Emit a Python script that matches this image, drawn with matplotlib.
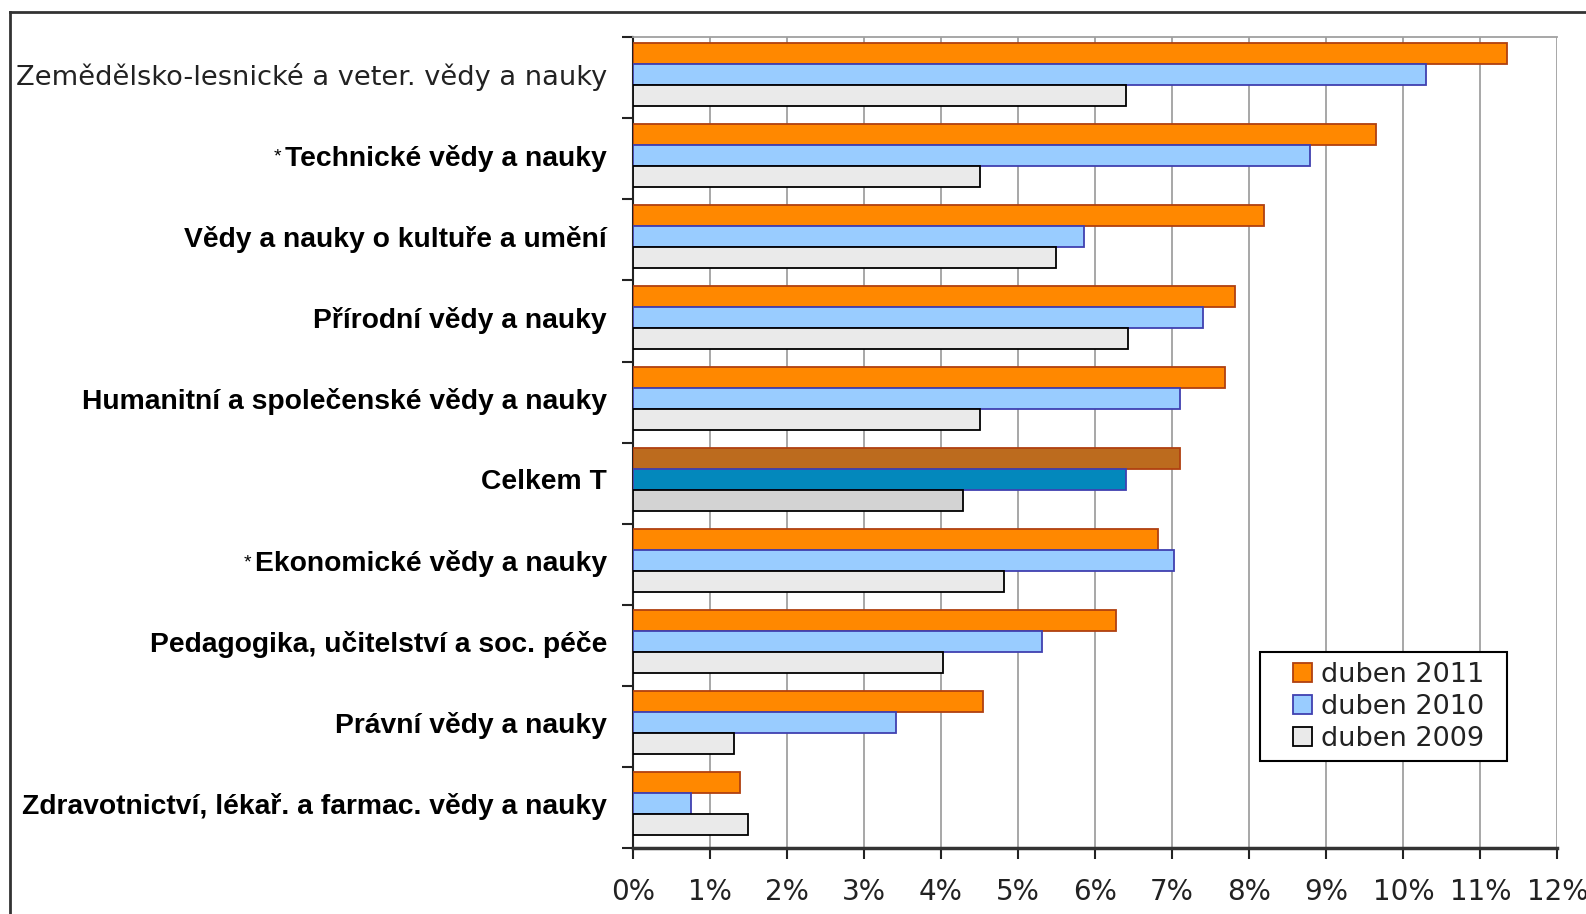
import numpy as np
import matplotlib
matplotlib.use('Agg')
import matplotlib.pyplot as plt
import matplotlib.transforms as mtransforms
from matplotlib.lines import Line2D
from matplotlib.patches import Patch, Rectangle

# obory, shora dolu
obory = ['Zemědělsko-lesnické a veter. vědy a nauky',
         'Technické vědy a nauky',
         'Vědy a nauky o kultuře a umění',
         'Přírodní vědy a nauky',
         'Humanitní a společenské vědy a nauky',
         'Celkem T',
         'Ekonomické vědy a nauky',
         'Pedagogika, učitelství a soc. péče',
         'Právní vědy a nauky',
         'Zdravotnictví, lékař. a farmac. vědy a nauky']
hvezdicka = [False, True, False, False, False, False, True, False, False, False]

duben2011 = [11.34, 9.65, 8.19, 7.82, 7.68, 7.10, 6.81, 6.27, 4.55, 1.39]
duben2010 = [10.30, 8.79, 5.85, 7.40, 7.10, 6.40, 7.02, 5.31, 3.41, 0.75]
duben2009 = [6.40, 4.50, 5.49, 6.43, 4.50, 4.29, 4.82, 4.02, 1.31, 1.50]

roky = ['duben 2011', 'duben 2010', 'duben 2009']
xticks = np.arange(0, 13, 1)

barvy = ['#FF8800', '#99CCFF', '#EAEAEA']
okraje = ['#B04010', '#4040B0', '#000000']
barvy_celkem = ['#BC6B1E', '#0388BC', '#D3D3D3']

fig = plt.figure(figsize=(15.86, 9.14), dpi=100)
ax = fig.add_axes([0.399, 0.0727, 0.583, 0.8863])

n = len(obory)
y = np.arange(n)
h = 0.2625
off = 0.0625
for k, hodnoty in enumerate([duben2011, duben2010, duben2009]):
    cols = [barvy_celkem[k] if o == 'Celkem T' else barvy[k] for o in obory]
    ax.barh(y + off + k * h, hodnoty, height=h, align='edge', color=cols,
            edgecolor=okraje[k], linewidth=1.3, zorder=3)

ax.set_xlim(0, 12)
ax.set_ylim(n, 0)
ax.set_xticks(xticks)
ax.set_xticklabels(['%d%%' % t for t in xticks], fontsize=20,
                   family='DejaVu Sans', color='#222222')
# posledni popisek trochu doleva, at se vejde
last = ax.get_xticklabels()[-1]
last.set_transform(last.get_transform() + mtransforms.ScaledTranslation(-4 / 100, 0, fig.dpi_scale_trans))
ax.grid(axis='x', color='#a0a0a0', linewidth=1.3, zorder=0)
ax.set_yticks(np.arange(n + 1))
ax.set_yticklabels([])
ax.set_yticks(y + off + 1.5 * h, minor=True)
ax.set_yticklabels(obory, minor=True)
ax.tick_params(axis='y', which='major', length=8, width=1.5, direction='out', color='#222222')
ax.tick_params(axis='y', which='minor', length=0, pad=18.5)
ax.tick_params(axis='x', length=8, width=1.5, direction='out', pad=14, color='#222222')

for lab in ax.get_yticklabels(minor=True):
    if lab.get_text().startswith('Zem'):
        lab.set_family('DejaVu Sans')
        lab.set_fontsize(19.6)
        lab.set_color('#222222')
    else:
        lab.set_family('Liberation Sans')
        lab.set_fontweight('bold')
        lab.set_fontsize(20.3)

ax.spines['top'].set_color('#a0a0a0')
ax.spines['top'].set_linewidth(1.3)
ax.spines['right'].set_visible(False)
ax.spines['left'].set_color('#222222')
ax.spines['left'].set_linewidth(1.5)
ax.spines['bottom'].set_color('#333333')
ax.spines['bottom'].set_linewidth(2.5)

# legenda s vlastnim ramem
ax.add_patch(Rectangle((1260 / 1586, 1 - 761 / 914), 247 / 1586, 109 / 914,
                       transform=fig.transFigure, facecolor='white', edgecolor='black',
                       linewidth=1.5, zorder=4.5, clip_on=False))
handles = [Patch(facecolor=barvy[k], edgecolor=okraje[k], linewidth=1.3) for k in range(3)]
leg = ax.legend(handles, roky, loc='upper left', bbox_to_anchor=(1293 / 1586, 1 - 662 / 914),
                bbox_transform=fig.transFigure, borderaxespad=0, fontsize=19.5,
                frameon=False, handlelength=0.7, handleheight=0.7,
                handletextpad=0.35, labelspacing=0.22, borderpad=0)
leg.set_zorder(5)
for t in leg.get_texts():
    t.set_family('DejaVu Sans')
    t.set_color('#222222')

# hvezdicky pred nazvy
fig.canvas.draw()
r = fig.canvas.get_renderer()
for lab, hv in zip(ax.get_yticklabels(minor=True), hvezdicka):
    if hv:
        bb = lab.get_window_extent(r)
        fig.text(bb.x0 - 4, bb.y1 - 4, '*', ha='right', va='top', fontsize=14,
                 family='Liberation Sans', transform=None)

# ramecek
fig.add_artist(Line2D([0.0065, 0.0065], [0, 0.987], color='#333333', linewidth=2))
fig.add_artist(Line2D([0.0065, 1.0], [0.987, 0.987], color='#333333', linewidth=2))

plt.savefig('out.png', dpi=100)
